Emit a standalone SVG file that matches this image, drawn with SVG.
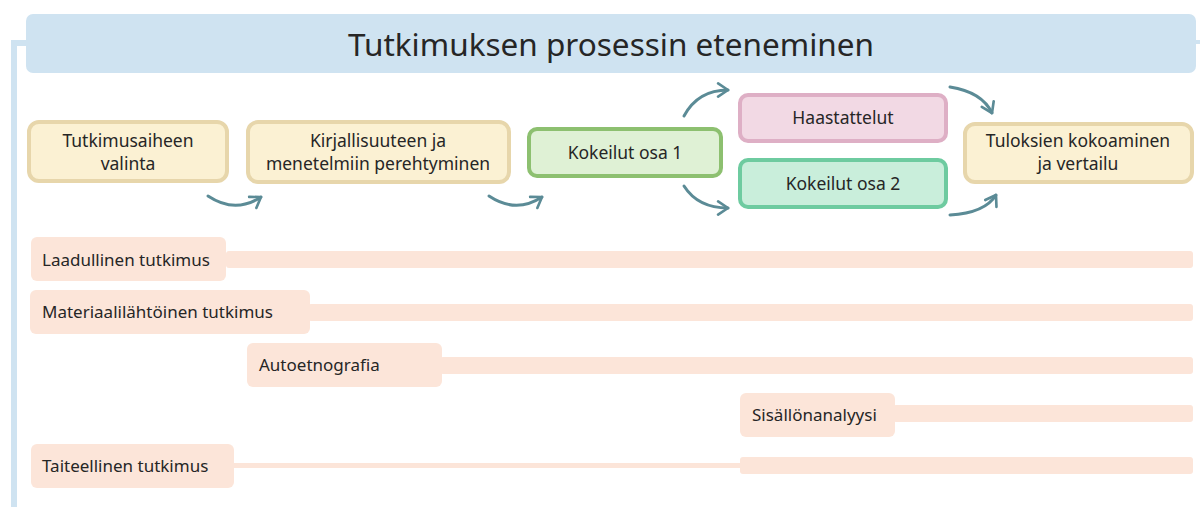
<svg xmlns="http://www.w3.org/2000/svg" width="1200" height="507" viewBox="0 0 1200 507">
<defs>
<marker id="ah" viewBox="0 0 10 10" refX="7" refY="5" markerWidth="5.5" markerHeight="5.5" orient="auto" markerUnits="strokeWidth">
<path d="M1,1 L7,5 L1,9" fill="none" stroke="#5b8b96" stroke-width="1.6" stroke-linecap="round" stroke-linejoin="round"/>
</marker>
<style>
.t{font-family:"Noto Sans","Open Sans",sans-serif;fill:#262626}
.n{font-size:17.5px;text-anchor:middle}
.l{font-size:17px}
.y{fill:#fbf1d3;stroke:#e7d6ab;stroke-width:4}
.p{fill:#fce5d9}
.c{fill:none;stroke:#5b8b96;stroke-width:3;stroke-linecap:round;marker-end:url(#ah)}
</style>
</defs>
<rect width="1200" height="507" fill="#ffffff"/>
<g id="frame">
<rect x="11" y="40" width="6" height="467" fill="#cfe3f1"/>
<rect x="11" y="40" width="18" height="6" fill="#cfe3f1"/>
<rect x="1194" y="40" width="6" height="4" fill="#cfe3f1"/>
</g>
<g id="title">
<rect x="26" y="14" width="1170" height="59" rx="7" fill="#cfe3f1"/>
<text class="t" x="611" y="56" font-size="31.5" text-anchor="middle" fill="#333">Tutkimuksen prosessin eteneminen</text>
</g>
<g id="n1">
<rect class="y" x="29" y="122" width="198" height="59" rx="10"/>
<text class="t n" x="128" y="147">Tutkimusaiheen</text>
<text class="t n" x="128" y="170">valinta</text>
</g>
<g id="n2">
<rect class="y" x="248" y="122" width="261" height="60" rx="10"/>
<text class="t n" x="378" y="147">Kirjallisuuteen ja</text>
<text class="t n" x="378" y="170">menetelmiin perehtyminen</text>
</g>
<g id="n3">
<rect x="529" y="129" width="192" height="47" rx="8" fill="#dff1d5" stroke="#8dc070" stroke-width="4"/>
<text class="t n" x="625" y="159">Kokeilut osa 1</text>
</g>
<g id="n4">
<rect x="740" y="95" width="206" height="46" rx="8" fill="#f2d9e4" stroke="#deafc5" stroke-width="4"/>
<text class="t n" x="843" y="124">Haastattelut</text>
</g>
<g id="n5">
<rect x="740" y="160" width="206" height="47" rx="8" fill="#c9eedb" stroke="#6ecba0" stroke-width="4"/>
<text class="t n" x="843" y="190">Kokeilut osa 2</text>
</g>
<g id="n6">
<rect class="y" x="965" y="124" width="227" height="58" rx="10"/>
<text class="t n" x="1078" y="147">Tuloksien kokoaminen</text>
<text class="t n" x="1078" y="170">ja vertailu</text>
</g>
<g id="connectors">
<path class="c" d="M208,196 Q235,214 261,197"/>
<path class="c" d="M489,196 Q516,214 542,197"/>
<path class="c" d="M684,116 Q698,90 728,90"/>
<path class="c" d="M684,186 Q698,208 728,208"/>
<path class="c" d="M950,87 Q982,92 992,113"/>
<path class="c" d="M950,215 Q985,213 996,195"/>
</g>
<g id="r1">
<rect class="p" x="226" y="251" width="967" height="17" rx="3"/>
<rect class="p" x="31" y="237" width="195" height="44" rx="6"/>
<text class="t l" x="42" y="266">Laadullinen tutkimus</text>
</g>
<g id="r2">
<rect class="p" x="308" y="304" width="885" height="17" rx="3"/>
<rect class="p" x="30" y="290" width="280" height="44" rx="6"/>
<text class="t l" x="42" y="318">Materiaalilähtöinen tutkimus</text>
</g>
<g id="r3">
<rect class="p" x="440" y="357" width="753" height="17" rx="3"/>
<rect class="p" x="247" y="343" width="195" height="44" rx="6"/>
<text class="t l" x="259" y="371">Autoetnografia</text>
</g>
<g id="r4">
<rect class="p" x="893" y="405" width="300" height="17" rx="3"/>
<rect class="p" x="740" y="393" width="155" height="44" rx="6"/>
<text class="t l" x="752" y="421">Sisällönanalyysi</text>
</g>
<g id="r5">
<rect class="p" x="232" y="463" width="510" height="5"/>
<rect class="p" x="740" y="457" width="453" height="17" rx="3"/>
<rect class="p" x="31" y="444" width="203" height="44" rx="6"/>
<text class="t l" x="42" y="472">Taiteellinen tutkimus</text>
</g>
</svg>
